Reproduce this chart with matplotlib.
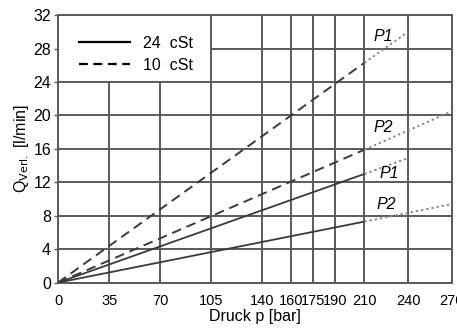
import numpy as np
import matplotlib
matplotlib.use("Agg")
import matplotlib.pyplot as plt
from matplotlib.lines import Line2D

# axis ticks
x_ticks = [0, 35, 70, 105, 140, 160, 175, 190, 210, 240, 270]
y_ticks = [0, 4, 8, 12, 16, 20, 24, 28, 32]

# leakage curves: pressure [bar] -> flow [l/min]
p_solid = [0, 210]
p_dot_p1 = [210, 240]
p_dot_p2 = [210, 270]
q_24_p1 = [0, 13.0]
q_24_p1_ext = [13.0, 14.9]
q_24_p2 = [0, 7.3]
q_24_p2_ext = [7.3, 9.4]
q_10_p1 = [0, 26.3]
q_10_p1_ext = [26.3, 30.0]
q_10_p2 = [0, 15.9]
q_10_p2_ext = [15.9, 20.5]

# curve labels
lab_text = ["P1", "P2", "P1", "P2"]
lab_x = [223, 223, 227, 225]
lab_y = [29.5, 18.6, 13.1, 9.4]

plt.rcParams['font.family'] = ['Liberation Sans Narrow', 'Liberation Sans', 'DejaVu Sans']
plt.rcParams['font.size'] = 11.5

fig = plt.figure(figsize=(4.57, 3.29), dpi=100)
ax = fig.add_axes([0.127, 0.141, 0.862, 0.813])

grid_c = "#5a5a5a"
line_c = "#3a3a3a"
dot_c = "#8a8a8a"

# grid (the legend box hides part of it in the original)
for y in y_ticks:
    x0 = 105 if y == 28 else 0
    ax.hlines(y, x0, 270, color=grid_c, lw=1.4, zorder=1)
for x in x_ticks:
    y1 = 24 if x in (35, 70) else 32
    ax.vlines(x, 0, y1, color=grid_c, lw=1.4, zorder=1)

# solid 24 cSt
ax.plot(p_solid, q_24_p1, color=line_c, lw=1.3, zorder=3)
ax.plot(p_solid, q_24_p2, color=line_c, lw=1.3, zorder=3)
ax.plot(p_dot_p1, q_24_p1_ext, color=dot_c, lw=1.4, ls=(0, (1.2, 1.5)), zorder=3)
ax.plot(p_dot_p2, q_24_p2_ext, color=dot_c, lw=1.4, ls=(0, (1.2, 1.5)), zorder=3)

# dashed 10 cSt
ax.plot(p_solid, q_10_p1, color=line_c, lw=1.4, ls=(0, (5, 3)), zorder=3)
ax.plot(p_solid, q_10_p2, color=line_c, lw=1.4, ls=(0, (5, 3)), zorder=3)
ax.plot(p_dot_p1, q_10_p1_ext, color=dot_c, lw=1.4, ls=(0, (1.2, 1.5)), zorder=3)
ax.plot(p_dot_p2, q_10_p2_ext, color=dot_c, lw=1.4, ls=(0, (1.2, 1.5)), zorder=3)

for t, x, y in zip(lab_text, lab_x, lab_y):
    ax.text(x, y, t, style="italic", ha="center", va="center", fontsize=11.5, zorder=4)

ax.set_xlim(0, 270)
ax.set_ylim(0, 32)
ax.set_xticks(x_ticks)
ax.set_xticklabels([str(v) for v in x_ticks], fontsize=10.5)
ax.set_yticks(y_ticks)
ax.tick_params(axis="x", length=0, pad=8)
ax.tick_params(axis="y", length=3, width=1, color=grid_c, pad=2)
for s in ax.spines.values():
    s.set_color(grid_c)
    s.set_linewidth(1.4)

ax.set_xlabel("Druck p [bar]", labelpad=1)
ax.set_ylabel(r"Q$_{\mathrm{Verl.}}$ [l/min]", labelpad=2)

handles = [Line2D([], [], color="black", lw=1.6),
           Line2D([], [], color="black", lw=1.6, ls=(0, (4, 2.5)))]
leg = ax.legend(handles, ["24  cSt", "10  cSt"], loc="upper left",
                frameon=False, handlelength=3.2, handletextpad=0.8,
                borderaxespad=0.9, labelspacing=0.45, fontsize=11.5)

fig.savefig("out.png", dpi=100)
